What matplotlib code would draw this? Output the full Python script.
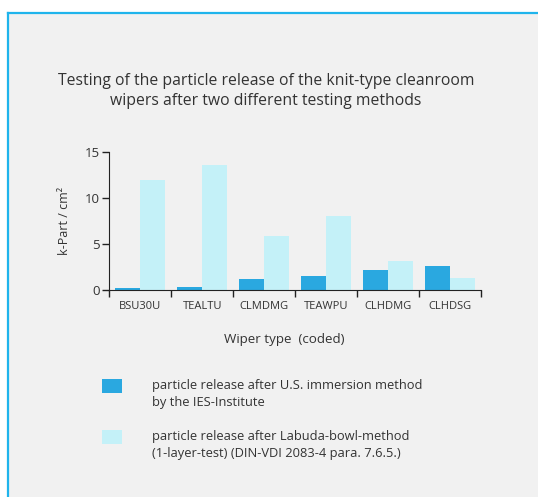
import matplotlib
matplotlib.use("Agg")
import matplotlib.pyplot as plt
from matplotlib.patches import Rectangle
from matplotlib.lines import Line2D
import numpy as np

categories = ["BSU30U", "TEALTU", "CLMDMG", "TEAWPU", "CLHDMG", "CLHDSG"]
immersion = [0.25, 0.36, 1.2, 1.53, 2.18, 2.62]
labuda = [12.0, 13.6, 5.9, 8.07, 3.16, 1.35]
yticks = [0, 5, 10, 15]
legend_labels = ["particle release after U.S. immersion method\nby the IES-Institute",
                 "particle release after Labuda-bowl-method\n(1-layer-test) (DIN-VDI 2083-4 para. 7.6.5.)"]

plt.rcParams['font.family'] = ['Open Sans', 'DejaVu Sans']
W, H = 538, 497
fig = plt.figure(figsize=(W/100, H/100), dpi=100)
fig.patch.set_facecolor('white')

def fx(px): return px / W
def fy(py): return 1 - py / H

# panel background and border
fig.patches.append(Rectangle((fx(8), 0), 1 - fx(8), fy(13), transform=fig.transFigure,
                             facecolor='#f1f1f1', edgecolor='none', zorder=-10))
fig.lines.append(Line2D([fx(8), fx(8)], [0, fy(13)], transform=fig.transFigure, color='#1fb4ec', lw=1.6, zorder=-5))
fig.lines.append(Line2D([fx(8), 1], [fy(13), fy(13)], transform=fig.transFigure, color='#1fb4ec', lw=1.6, zorder=-5))

txt = '#333333'
ax = fig.add_axes([fx(109.3), fy(290), (480.7 - 109.3) / W, (290 - 152.3) / H])
ax.set_facecolor('none')
ax.set_zorder(2)
x = np.arange(len(categories))
ax.bar(x + 0.1, immersion, width=0.4, align='edge', color='#2aa8e0', zorder=2)
ax.bar(x + 0.5, labuda, width=0.4, align='edge', color='#c4f1f8', zorder=2)
ax.set_xlim(0, len(categories))
ax.set_ylim(0, 15)
ax.set_yticks(yticks)
ax.set_xticks(np.arange(len(categories) + 1))
ax.set_xticklabels([])
ax.set_xticks(x + 0.5, minor=True)
ax.set_xticklabels(categories, minor=True, fontsize=8, color=txt)
ax.tick_params(axis='x', which='minor', length=0, pad=8)
ax.tick_params(axis='x', which='major', length=5, width=1, color='#222222')
ax.tick_params(axis='y', length=5, width=1, color='#222222', labelsize=9.5, labelcolor=txt, pad=2)
for s in ['top', 'right']:
    ax.spines[s].set_visible(False)
ax.spines['left'].set_color('#222222')
ax.spines['bottom'].set_color('#222222')
ax.set_ylabel("k-Part / cm²", fontsize=9, color=txt, labelpad=10)
ax.set_xlabel("Wiper type  (coded)", fontsize=9.6, color=txt)
ax.xaxis.set_label_coords((284 - 109.3) / (480.7 - 109.3), -(340 - 290) / (290 - 152.3))
ax.xaxis.label.set_va('center')

fig.text(fx(266), fy(91), "Testing of the particle release of the knit-type cleanroom\nwipers after two different testing methods",
         ha='center', va='center', fontsize=11.3, color=txt, linespacing=1.4)

# legend
fig.patches.append(Rectangle((fx(102), fy(393)), 20 / W, 14 / H, transform=fig.transFigure,
                             facecolor='#2aa8e0', edgecolor='none'))
fig.patches.append(Rectangle((fx(102), fy(444)), 20 / W, 14 / H, transform=fig.transFigure,
                             facecolor='#c4f1f8', edgecolor='none'))
fig.text(fx(152.5), fy(394), legend_labels[0], ha='left', va='center', fontsize=9.3, color=txt, linespacing=1.45)
fig.text(fx(152.5), fy(445), legend_labels[1], ha='left', va='center', fontsize=9.3, color=txt, linespacing=1.45)

fig.savefig("out.png", dpi=100, facecolor=fig.get_facecolor())
